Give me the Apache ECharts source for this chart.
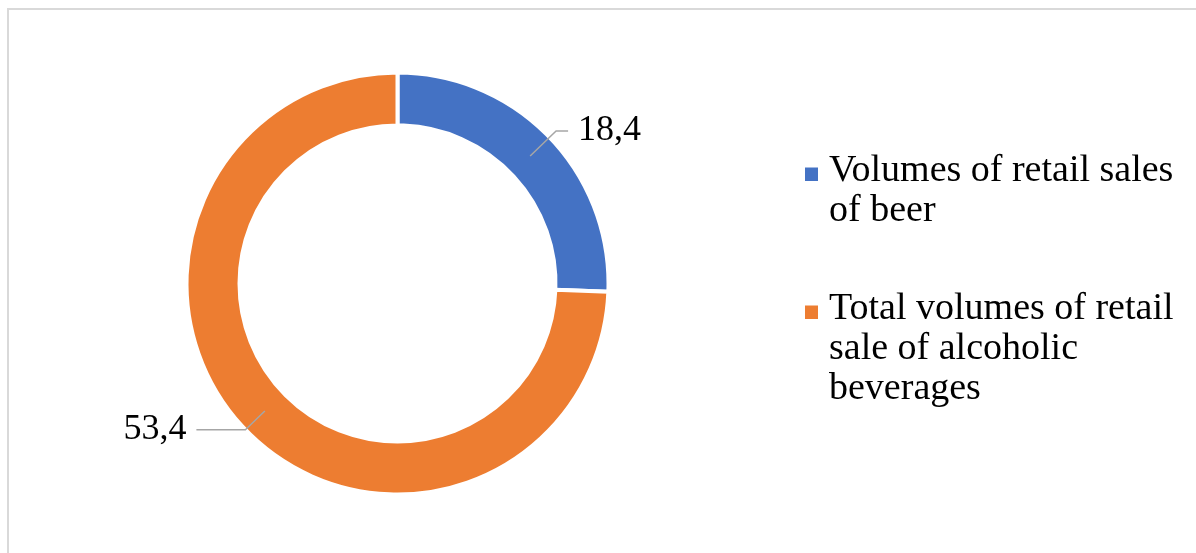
<!DOCTYPE html>
<html>
<head>
<meta charset="utf-8">
<script src="https://cdn.jsdelivr.net/npm/echarts@6/dist/echarts.min.js"></script>
<style>
  html, body { margin: 0; padding: 0; background: #ffffff; }
  #chart { width: 1196px; height: 553px; }
</style>
</head>
<body>
<div id="chart"></div>
<script>
// Retail sales volumes: beer vs. all alcoholic beverages
const categories = [
  'Volumes of retail sales of beer',
  'Total volumes of retail sale of alcoholic beverages'
];
const values = [18.4, 53.4];
// Legend text, broken into lines the way it is shown
const legendLines = [
  ['Volumes of retail sales', 'of beer'],
  ['Total volumes of retail', 'sale of alcoholic', 'beverages']
];

const colors = ['#4472C4', '#ED7D31'];
// Leader line lengths per slice: [radial part, horizontal part]
const leaderLengths = [[36, 12], [27, 49]];

const FONT = '"Liberation Serif", "Times New Roman", serif';
const fmt = v => v.toFixed(1).replace('.', ',');

// Legend marker: a 13px square sitting a little below the line's middle
function markerImage(color) {
  const c = document.createElement('canvas');
  c.width = 13; c.height = 19;
  const ctx = c.getContext('2d');
  ctx.fillStyle = color;
  ctx.fillRect(0, 6, 13, 13);
  return c;
}

const rich = {
  t: { fontFamily: FONT, fontSize: 38, lineHeight: 40, color: '#000000' },
  gap: { width: 11, height: 13 },
  ind: { width: 24, height: 13 }
};
colors.forEach((c, i) => {
  rich['sq' + i] = { width: 13, height: 19, backgroundColor: { image: markerImage(c) } };
});

const chart = echarts.init(document.getElementById('chart'), null, { renderer: 'canvas' });

chart.setOption({
  backgroundColor: '#ffffff',
  animation: false,
  color: colors,
  graphic: [{
    type: 'rect',
    shape: { x: 8, y: 9, width: 1300, height: 700 },
    style: { fill: 'none', stroke: '#D9D9D9', lineWidth: 2 },
    silent: true,
    z: -10
  }],
  legend: {
    orient: 'vertical',
    left: 800,
    top: 151,
    padding: 0,
    itemGap: 58,
    icon: 'none',
    itemWidth: 0,
    itemHeight: 13,
    data: categories,
    formatter: name => {
      const idx = categories.indexOf(name);
      return legendLines[idx].map((line, k) =>
        (k === 0 ? '{sq' + idx + '|}{gap|}' : '{ind|}') + '{t|' + line + '}'
      ).join('\n');
    },
    textStyle: { fontFamily: FONT, fontSize: 38, lineHeight: 40, color: '#000000', rich: rich }
  },
  series: [
    {
      // the ring itself
      type: 'pie',
      name: 'ring',
      center: [397.5, 283.5],
      radius: [158, 211],
      startAngle: 90,
      clockwise: true,
      silent: true,
      label: { show: false },
      labelLine: { show: false },
      itemStyle: { borderColor: '#ffffff', borderWidth: 4 },
      data: categories.map((n, i) => ({ name: n, value: values[i] }))
    },
    {
      // transparent inner disc that carries the value labels and leader lines
      type: 'pie',
      name: 'labels',
      center: [397.5, 283.5],
      radius: [0, 184],
      startAngle: 90,
      clockwise: true,
      silent: true,
      z: 5,
      avoidLabelOverlap: false,
      itemStyle: { color: 'rgba(0,0,0,0)' },
      label: {
        show: true,
        position: 'outside',
        distanceToLabelLine: 10,
        fontFamily: FONT,
        fontSize: 36,
        color: '#000000',
        formatter: p => fmt(p.value)
      },
      labelLine: { show: true, lineStyle: { color: '#A6A6A6', width: 1.5 } },
      data: categories.map((n, i) => ({
        name: n,
        value: values[i],
        labelLine: { length: leaderLengths[i][0], length2: leaderLengths[i][1] }
      }))
    }
  ]
});
</script>
</body>
</html>
